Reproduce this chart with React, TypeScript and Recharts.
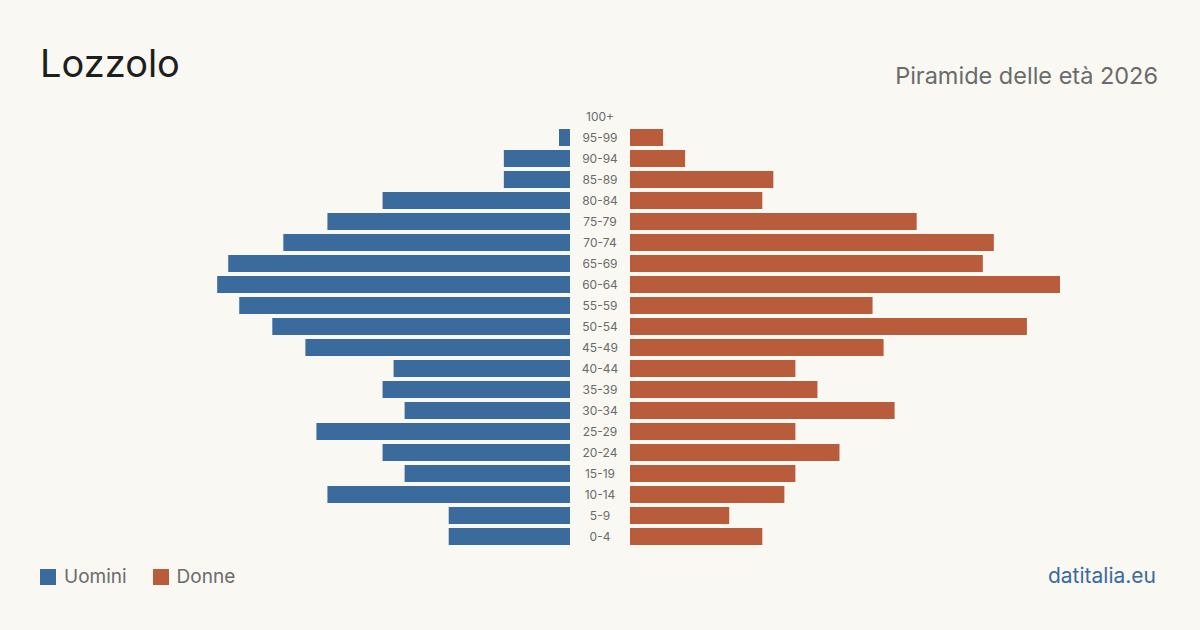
import { BarChart, Bar, XAxis, YAxis } from "recharts";

const ageGroups = [
  "100+", "95-99", "90-94", "85-89", "80-84", "75-79", "70-74", "65-69", "60-64", "55-59",
  "50-54", "45-49", "40-44", "35-39", "30-34", "25-29", "20-24", "15-19", "10-14", "5-9", "0-4",
];
const uomini = [0, 1, 6, 6, 17, 22, 26, 31, 32, 30, 27, 24, 16, 17, 15, 23, 17, 15, 22, 11, 11];
const donne = [0, 3, 5, 13, 12, 26, 33, 32, 39, 22, 36, 23, 15, 17, 24, 15, 19, 15, 14, 9, 12];

const BLUE = "#3b6b9c";
const ORANGE = "#b95c3c";
const BG = "#f9f8f3";
const FONT = "Inter, 'Noto Sans', sans-serif";
const MAX = 39;

const rows = ageGroups.map((age, i) => ({ age, uomini: uomini[i], donne: donne[i] }));

function AgeTick(props: any) {
  const { x, y, payload } = props;
  return (
    <text x={x - 22} y={y} dy={4} textAnchor="middle" fontSize={12} fill="#6b6b6b" fontFamily={FONT}>
      {payload.value}
    </text>
  );
}

export default function App() {
  return (
    <div style={{ position: "absolute", top: 0, left: 0, width: 1200, height: 630, background: BG, fontFamily: FONT }}>
      <div style={{ position: "absolute", left: 40, top: 40, fontSize: 38, color: "#1e1e1e" }}>Lozzolo</div>
      <div style={{ position: "absolute", right: 42, top: 61, fontSize: 23.5, color: "#6b6b6b" }}>
        Piramide delle età 2026
      </div>

      {/* men, growing leftwards */}
      <div style={{ position: "absolute", left: 140, top: 106 }}>
        <BarChart width={430} height={441} data={rows} layout="vertical" margin={{ top: 0, right: 0, bottom: 0, left: 0 }}>
          <XAxis type="number" domain={[0, MAX]} reversed hide />
          <YAxis type="category" dataKey="age" hide />
          <Bar dataKey="uomini" fill={BLUE} barSize={17} isAnimationActive={false} />
        </BarChart>
      </div>

      {/* women, with the age labels in the middle column */}
      <div style={{ position: "absolute", left: 570, top: 106 }}>
        <BarChart width={490} height={441} data={rows} layout="vertical" margin={{ top: 0, right: 0, bottom: 0, left: 0 }}>
          <XAxis type="number" domain={[0, MAX]} hide />
          <YAxis type="category" dataKey="age" width={60} tick={<AgeTick />} tickLine={false} axisLine={false} interval={0} />
          <Bar dataKey="donne" fill={ORANGE} barSize={17} isAnimationActive={false} />
        </BarChart>
      </div>

      <div style={{ position: "absolute", left: 40, top: 565, display: "flex", alignItems: "center", fontSize: 19, color: "#6b6b6b" }}>
        <span style={{ width: 16, height: 16, background: BLUE, display: "inline-block", marginRight: 8 }} />
        <span style={{ marginRight: 26 }}>Uomini</span>
        <span style={{ width: 16, height: 16, background: ORANGE, display: "inline-block", marginRight: 8 }} />
        <span>Donne</span>
      </div>
      <div style={{ position: "absolute", right: 44, top: 563, fontSize: 21, color: BLUE }}>datitalia.eu</div>
    </div>
  );
}
